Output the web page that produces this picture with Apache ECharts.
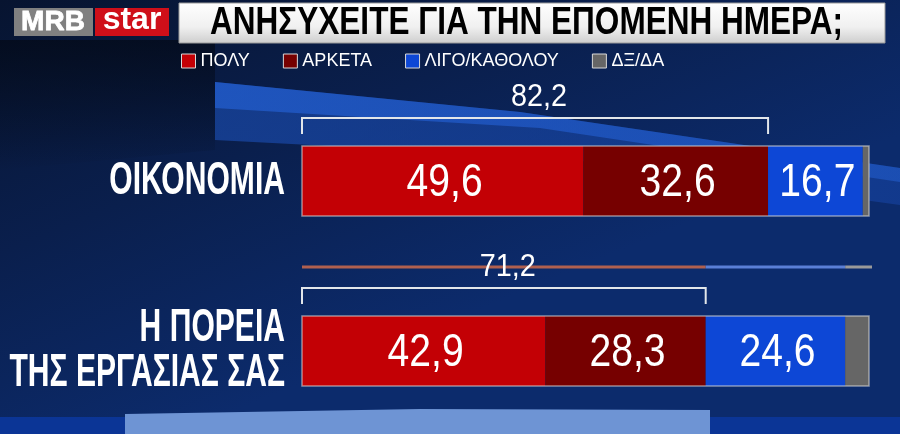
<!DOCTYPE html>
<html><head><meta charset="utf-8">
<style>html,body{margin:0;padding:0;background:#0a1830;}#c{width:900px;height:434px;}</style>
<script src="https://cdn.jsdelivr.net/npm/echarts@6/dist/echarts.min.js"></script>
</head><body><div id="c"></div>
<script>
const categories = ['ΟΙΚΟΝΟΜΙΑ', 'Η ΠΟΡΕΙΑ\nΤΗΣ ΕΡΓΑΣΙΑΣ ΣΑΣ'];
const seriesNames = ['ΠΟΛΥ', 'ΑΡΚΕΤΑ', 'ΛΙΓΟ/ΚΑΘΟΛΟΥ', 'ΔΞ/ΔΑ'];
const poly = [49.6, 42.9];
const arketa = [32.6, 28.3];
const ligo = [16.7, 24.6];
const dxda = [1.1, 4.2];
const titleText = 'ΑΝΗΣΥΧΕΙΤΕ ΓΙΑ ΤΗΝ ΕΠΟΜΕΝΗ ΗΜΕΡΑ;';

const SANS = "'Liberation Sans',Arial,sans-serif";
const colors = ['#c30005', '#760000', '#0d47d6', '#666666'];
const fmt = v => String(v).replace('.', ',');
const seriesData = [poly, arketa, ligo, dxda];

const chart = echarts.init(document.getElementById('c'), null, {renderer: 'canvas'});

const barSeries = seriesNames.map((n, k) => ({
  name: n, type: 'bar', stack: 'total', barWidth: 70,
  data: seriesData[k],
  itemStyle: {color: colors[k]},
  label: {show: false},
  emphasis: {disabled: true}, animation: false, z: 3
}));

function condText(x, y, text, font, sx, align, extra) {
  return {type: 'text', x: x, y: y, scaleX: sx,
    style: Object.assign({text: text, fill: '#fff', font: font, align: align, verticalAlign: 'middle'}, extra || {})};
}

const overlay = {
  type: 'custom', name: 'overlay', z: 5, silent: true, animation: false,
  data: categories.map((c, i) => [poly[i] + arketa[i] + ligo[i] + dxda[i], i]),
  encode: {x: 0, y: 1},
  renderItem: function (params, api) {
    const i = params.dataIndex;
    const sum = poly[i] + arketa[i];
    const total = api.value(0);
    const p0 = api.coord([0, i]);
    const pP = api.coord([poly[i], i]);
    const pS = api.coord([sum, i]);
    const pL = api.coord([sum + ligo[i], i]);
    const pE = api.coord([total, i]);
    const cy = p0[1];
    const ch = [];
    ch.push({type: 'rect', shape: {x: p0[0], y: cy - 35, width: pE[0] - p0[0], height: 70},
      style: {fill: 'none', stroke: 'rgba(215,215,215,0.6)', lineWidth: 1.5}});
    if (i === 1) {
      ch.push({type: 'line', shape: {x1: p0[0], y1: cy - 84, x2: pS[0], y2: cy - 84}, style: {stroke: '#b0604f', lineWidth: 3}});
      ch.push({type: 'line', shape: {x1: pS[0], y1: cy - 84, x2: pL[0], y2: cy - 84}, style: {stroke: '#5a7fd6', lineWidth: 3}});
      ch.push({type: 'line', shape: {x1: pL[0], y1: cy - 84, x2: pE[0] + 3, y2: cy - 84}, style: {stroke: '#9a9a9a', lineWidth: 3}});
    }
    ch.push({type: 'polyline', shape: {points: [[p0[0], cy - 47], [p0[0], cy - 63], [pS[0], cy - 63], [pS[0], cy - 47]]},
      style: {fill: 'none', stroke: '#e2e6ea', lineWidth: 2}});
    ch.push(condText((p0[0] + pS[0]) / 2 + 4, cy - 84, fmt(Math.round(sum * 10) / 10), '32px ' + SANS, 0.9, 'center'));
    const segs = [[p0[0], pP[0], poly[i]], [pP[0], pS[0], arketa[i]], [pS[0], pL[0], ligo[i]]];
    segs.forEach(s => ch.push(condText((s[0] + s[1]) / 2 + 2, cy + 2, fmt(s[2]), '46px ' + SANS, 0.85, 'center')));
    ch.push(condText(p0[0] - 17, cy, categories[i], 'bold 47px ' + SANS, 0.64, 'right', {lineHeight: 45}));
    return {type: 'group', children: ch};
  }
};

const option = {
  backgroundColor: {type: 'linear', x: 0, y: 0, x2: 0.2, y2: 1,
    colorStops: [{offset: 0, color: '#071430'}, {offset: 0.5, color: '#0a1f4d'}, {offset: 1, color: '#0c2b6c'}]},
  animation: false,
  graphic: [
    {type: 'polygon', z: 0, silent: true, shape: {points: [[0, 40], [215, 40], [215, 150], [0, 170]]},
      style: {fill: {type: 'linear', x: 0, y: 0, x2: 0, y2: 1, colorStops: [{offset: 0, color: 'rgba(3,9,22,0.7)'}, {offset: 1, color: 'rgba(3,9,22,0)'}]}}},
    {type: 'polygon', z: 0, silent: true, shape: {points: [[215, 82], [520, 112], [900, 168], [900, 205], [560, 158], [215, 140]]},
      style: {fill: {type: 'linear', x: 0, y: 0, x2: 1, y2: 0, colorStops: [{offset: 0, color: 'rgba(30,85,195,0.55)'}, {offset: 1, color: 'rgba(25,75,180,0.45)'}]}}},
    {type: 'polygon', z: 0, silent: true, shape: {points: [[215, 82], [520, 112], [900, 168], [900, 182], [540, 128], [215, 108]]},
      style: {fill: {type: 'linear', x: 0, y: 0, x2: 1, y2: 0, colorStops: [{offset: 0, color: 'rgba(35,95,210,0.7)'}, {offset: 1, color: 'rgba(35,95,210,0.55)'}]}}},
    {type: 'rect', z: 0, silent: true, shape: {x: 0, y: 417, width: 900, height: 17}, style: {fill: '#0b3596'}},
    {type: 'polygon', z: 0, silent: true, shape: {points: [[125, 414], [420, 409], [710, 410], [710, 434], [125, 434]]}, style: {fill: '#6e94d4'}},
    {type: 'rect', z: 10, shape: {x: 14, y: 8, width: 79, height: 28}, style: {fill: '#808080'}},
    {type: 'text', z: 11, x: 53, y: 22, style: {text: 'MRB', fill: '#fff', font: 'bold 28px ' + SANS, align: 'center', verticalAlign: 'middle', stroke: '#fff', lineWidth: 0.8}},
    {type: 'rect', z: 10, shape: {x: 95, y: 8, width: 74, height: 28}, style: {fill: '#cf0f19'}},
    {type: 'text', z: 11, x: 132, y: 20, style: {text: 'star', fill: '#fff', font: 'bold 32px ' + SANS, align: 'center', verticalAlign: 'middle'}},
    {type: 'rect', z: 10, shape: {x: 179, y: 3, width: 706, height: 40},
      style: {fill: {type: 'linear', x: 0, y: 0, x2: 0, y2: 1, colorStops: [{offset: 0, color: '#ffffff'}, {offset: 0.6, color: '#f0f0f0'}, {offset: 1, color: '#cdcdcd'}]},
        stroke: '#9a9a9a', lineWidth: 1}},
    {type: 'text', z: 11, x: 210, y: 24, scaleX: 0.83, style: {text: titleText, fill: '#000', font: 'bold 38px ' + SANS, align: 'left', verticalAlign: 'middle'}}
  ],
  legend: {
    data: seriesNames, left: 176, top: 47, itemWidth: 14, itemHeight: 14, itemGap: 33, icon: 'rect',
    itemStyle: {borderColor: '#d9d9d9', borderWidth: 1},
    textStyle: {color: '#fff', fontSize: 18, fontFamily: SANS, padding: [0, 0, 0, 0]},
    selectedMode: false
  },
  grid: {left: 302, right: 31, top: 96, bottom: -2, containLabel: false, outerBoundsMode: 'none'},
  xAxis: {type: 'value', min: 0, max: 100, show: false},
  yAxis: {
    type: 'category', data: categories, inverse: true,
    axisLine: {show: false}, axisTick: {show: false}, splitLine: {show: false},
    axisLabel: {show: false}
  },
  series: barSeries.concat([overlay])
};
chart.setOption(option);
</script></body></html>
